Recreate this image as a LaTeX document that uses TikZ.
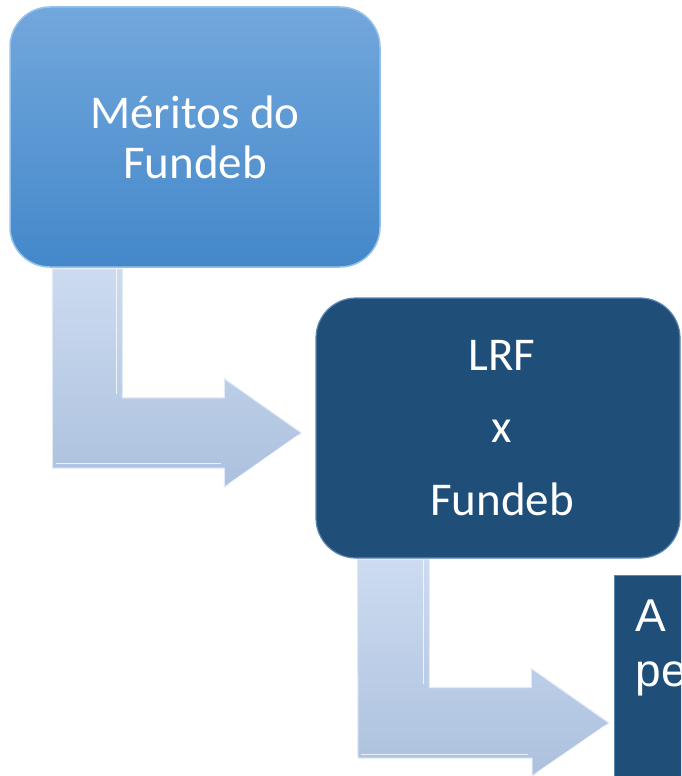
\documentclass[tikz,border=0pt]{standalone}
\usepackage{fontspec}
\setmainfont{Carlito}
\newfontfamily\arialfont{Liberation Sans}
\usetikzlibrary{calc}
\definecolor{boxtop}{RGB}{114,167,220}
\definecolor{boxbot}{RGB}{68,136,202}
\definecolor{boxedge}{RGB}{150,195,235}
\definecolor{navy}{RGB}{31,78,121}
\definecolor{navyedge}{RGB}{90,135,180}
\definecolor{arrtop}{RGB}{204,219,240}
\definecolor{arrbot}{RGB}{172,193,222}
\definecolor{arredge}{RGB}{225,235,248}
\tikzset{
  lightbox/.style={rounded corners=40pt, top color=boxtop, bottom color=boxbot,
    draw=boxedge, line width=1.5pt, text=white, align=center,
    minimum width=370pt, minimum height=260pt, inner sep=0pt,
    font=\fontsize{47}{50}\selectfont},
  darkbox/.style={rounded corners=40pt, fill=navy, draw=navyedge, line width=1.2pt,
    text=white, align=center, minimum width=364pt, minimum height=260pt, inner sep=0pt,
    font=\fontsize{47}{72.5}\selectfont},
  squarebox/.style={fill=navy, draw=navyedge, line width=1pt, text=white,
    text width=300pt, align=left, inner xsep=21pt, inner ysep=24pt,
    anchor=north west, text depth=240pt,
    font=\arialfont\fontsize{46}{55}\selectfont},
  bentarrow/.style={top color=arrtop, bottom color=arrbot, draw=arredge, line width=1pt},
  bevel/.style={draw=white, opacity=0.75, line width=1.2pt}
}
\begin{document}
\begin{tikzpicture}[x=1pt,y=-1pt]
\useasboundingbox (0,0) rectangle (681,776);
\clip (0,0) rectangle (681,776);
% boxes
\node[lightbox] (b1) at (195,137) {Méritos do\\Fundeb};
\node[darkbox] (b2) at (498,428) {\hspace*{8pt}LRF\\\hspace*{8pt}x\\\hspace*{8pt}Fundeb};
\node[squarebox] (b3) at (614,575) {A s\\pe};
% bent arrows
\draw[bentarrow] ($(b1.south west)+(43,1)$) coordinate (a1)
  -- ++(70,0) -- ++(0,129) -- ++(102,0) -- ++(0,-19)
  -- ($(b2.west)+(-14,5)$) coordinate (t1)
  -- ++(-77,54) -- ++(0,-19) -- ++(-172,0) -- cycle;
\draw[bevel] ($(a1)+(64,0)$) -- ++(0,125);
\draw[bevel] ($(a1)+(4,195)$) -- ++(165,0);
\draw[bevel] ($(t1)+(-4,3)$) -- ++(-68,48);
\draw[bentarrow] ($(b2.south west)+(42,1)$) coordinate (a2)
  -- ++(72,0) -- ++(0,128) -- ++(102,0) -- ++(0,-19)
  -- ($(b3.north west)+(-5,148)$) coordinate (t2)
  -- ++(-77,53) -- ++(0,-18) -- ++(-174,0) -- cycle;
\draw[bevel] ($(a2)+(66,0)$) -- ++(0,124);
\draw[bevel] ($(a2)+(4,195)$) -- ++(167,0);
\draw[bevel] ($(t2)+(-4,3)$) -- ++(-68,47);
\end{tikzpicture}
\end{document}
